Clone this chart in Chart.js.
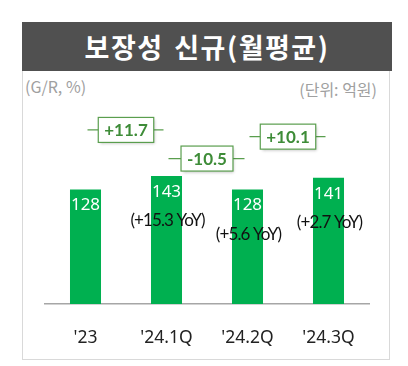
<!DOCTYPE html>
<html>
<head>
<meta charset="utf-8">
<script src="https://cdn.jsdelivr.net/npm/chart.js@4"></script>
<style>
  html, body { margin: 0; padding: 0; background: #fff; }
  body { width: 408px; height: 366px; position: relative; overflow: hidden; }
  .frame { position: absolute; left: 22px; top: 22px; width: 366px; height: 336px; border: 1px solid #d9d9d9; }
  .title-bar {
    position: absolute; left: 22px; top: 22px; width: 370px; height: 49px;
    background: #505050; color: #fff;
    font: bold 27px "Noto Sans CJK KR", sans-serif; letter-spacing: 1.5px; word-spacing: 3px;
    text-align: center; line-height: 49px;
  }
  .sub { position: absolute; color: #a0a0a0; font: 16px "Noto Sans CJK KR", sans-serif; line-height: 20px; }
  #chart-wrap { position: absolute; left: 0; top: 0; width: 408px; height: 366px; }
</style>
</head>
<body>
<div class="frame"></div>
<div class="title-bar">보장성 신규(월평균)</div>
<div class="sub" style="left:25px; top:76px;">(G/R, %)</div>
<div class="sub" style="right:31px; top:79px;">(단위: 억원)</div>
<div id="chart-wrap"><canvas id="bar-chart" width="408" height="366"></canvas></div>

<script>
const categories  = ["'23", "'24.1Q", "'24.2Q", "'24.3Q"];
const values      = [128, 143, 128, 141];
const yoyLabels   = [null, '+15.3', '+5.6', '+2.7'];
const growthRates = ['+11.7', '-10.5', '+10.1'];

// callout heights, in y-axis units
const calloutLevels = [194.5, 162.5, 187];

const labelPlugin = {
  id: 'labels',
  afterDatasetsDraw(chart) {
    const ctx  = chart.ctx;
    const meta = chart.getDatasetMeta(0);
    const ys   = chart.scales.y;
    ctx.save();
    ctx.textAlign = 'center';
    ctx.textBaseline = 'middle';

    meta.data.forEach((bar, i) => {
      ctx.fillStyle = '#ffffff';
      ctx.font = '17px "Noto Sans"';
      ctx.fillText(values[i], bar.x, bar.y + 16);
      if (yoyLabels[i]) {
        ctx.fillStyle = '#111111';
        ctx.font = '17px Lato';
        ctx.letterSpacing = '-0.9px';
        ctx.fillText(`(${yoyLabels[i]} YoY)`, bar.x + 1, bar.y + 45);
        ctx.letterSpacing = '0px';
      }
    });

    growthRates.forEach((g, i) => {
      const x1 = meta.data[i].x + 2;
      const x2 = meta.data[i + 1].x - 3;
      const cx = (meta.data[i].x + meta.data[i + 1].x) / 2;
      const cy = ys.getPixelForValue(calloutLevels[i]);
      ctx.strokeStyle = '#5a9e4e';
      ctx.lineWidth = 1.2;
      ctx.beginPath();
      ctx.moveTo(x1, cy); ctx.lineTo(x2, cy);
      ctx.stroke();

      ctx.font = 'bold 17px Lato';
      const w = ctx.measureText(g).width + 12;
      const h = 25;
      ctx.save();
      ctx.shadowColor = 'rgba(0,0,0,0.25)';
      ctx.shadowBlur = 3;
      ctx.shadowOffsetX = 1.5;
      ctx.shadowOffsetY = 2;
      ctx.fillStyle = '#ffffff';
      ctx.fillRect(cx - w / 2, cy - h / 2, w, h);
      ctx.restore();
      ctx.strokeRect(cx - w / 2, cy - h / 2, w, h);
      ctx.fillStyle = '#3e8c38';
      ctx.fillText(g, cx, cy + 1);
    });
    ctx.restore();
  }
};

new Chart(document.getElementById('bar-chart').getContext('2d'), {
  type: 'bar',
  data: {
    labels: categories,
    datasets: [{
      data: values,
      backgroundColor: '#00b050',
      barPercentage: 0.383,
      categoryPercentage: 1
    }]
  },
  options: {
    responsive: false,
    animation: false,
    layout: { padding: { top: 125, left: 45, right: 39, bottom: 1 } },
    plugins: { legend: { display: false }, tooltip: { enabled: false } },
    scales: {
      y: { display: false, min: 0, max: 200 },
      x: {
        grid: { display: false },
        border: { display: true, color: '#a6a6a6', width: 1.5 },
        ticks: { color: '#222222', font: { family: 'Noto Sans', size: 17.5 }, padding: 16 }
      }
    }
  },
  plugins: [labelPlugin]
});
</script>
</body>
</html>
